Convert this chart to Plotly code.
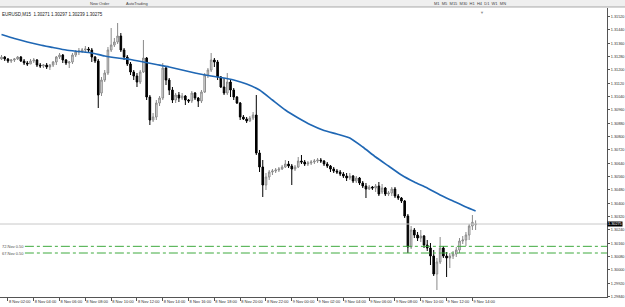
import pandas as pd
import plotly.graph_objects as go

# ---------------- data (prices in points, 1 point = 0.00001) ----------------
bar_start = "2012-11-08 01:30"   # first M15 bar
open_pts = [
    131265, 131277, 131265, 131253, 131259, 131265, 131277, 131253, 131241, 131235,
    131253, 131259, 131229, 131223, 131229, 131217, 131229, 131247, 131277, 131289,
    131259, 131241, 131247, 131289, 131307, 131313, 131319, 131325, 131319, 131277,
    131253, 131061, 131139, 131181, 131319, 131349, 131367, 131403, 131319, 131277,
    131235, 131187, 131163, 131127, 131187, 131271, 131037, 130899, 130917, 131001,
    131031, 131211, 131139, 131079, 131019, 131049, 131031, 131043, 131019, 131013,
    131061, 131031, 131013, 131067, 131169, 131199, 131259, 131247, 131157, 131097,
    131061, 131127, 131079, 131037, 131001, 130917, 130905, 130893, 130911, 130929,
    130701, 130617, 130509, 130557, 130587, 130593, 130599, 130605, 130617, 130635,
    130623, 130605, 130617, 130653, 130647, 130635, 130641, 130647, 130653, 130659,
    130653, 130635, 130623, 130605, 130593, 130587, 130575, 130563, 130551, 130563,
    130533, 130551, 130521, 130503, 130485, 130497, 130491, 130503, 130467, 130491,
    130455, 130461, 130485, 130443, 130431, 130413, 130323, 130137, 130239, 130209,
    130191, 130203, 130149, 130131, 130083, 129975, 130047, 130131, 130083, 130071,
    130083, 130095, 130119, 130173, 130179, 130209, 130263, 130271]
high_pts = [
    131289, 131283, 131271, 131265, 131271, 131283, 131283, 131265, 131253, 131265,
    131271, 131265, 131241, 131235, 131241, 131235, 131253, 131283, 131301, 131295,
    131265, 131253, 131301, 131319, 131331, 131331, 131343, 131337, 131331, 131283,
    131265, 131157, 131199, 131337, 131451, 131391, 131481, 131421, 131331, 131289,
    131247, 131199, 131181, 131199, 131379, 131277, 131049, 130941, 131019, 131043,
    131241, 131217, 131151, 131097, 131061, 131067, 131061, 131049, 131025, 131073,
    131067, 131037, 131079, 131181, 131211, 131301, 131271, 131259, 131163, 131151,
    131181, 131139, 131091, 131043, 131007, 130929, 130917, 130923, 130947, 131049,
    130719, 130659, 130581, 130599, 130605, 130611, 130617, 130629, 130659, 130653,
    130635, 130629, 130677, 130689, 130659, 130653, 130659, 130665, 130671, 130671,
    130659, 130647, 130629, 130617, 130605, 130599, 130587, 130581, 130581, 130569,
    130563, 130557, 130533, 130521, 130509, 130503, 130515, 130527, 130515, 130497,
    130473, 130497, 130497, 130455, 130437, 130419, 130335, 130263, 130251, 130227,
    130239, 130209, 130179, 130161, 130119, 130071, 130197, 130143, 130107, 130101,
    130113, 130137, 130191, 130203, 130227, 130275, 130329, 130297]
low_pts = [
    131259, 131253, 131241, 131241, 131247, 131259, 131247, 131229, 131223, 131235,
    131241, 131217, 131211, 131211, 131205, 131199, 131217, 131229, 131265, 131241,
    131229, 131211, 131235, 131277, 131289, 131301, 131301, 131301, 131247, 131241,
    130971, 131043, 131127, 131169, 131307, 131337, 131355, 131307, 131259, 131223,
    131169, 131139, 131097, 131115, 131181, 131019, 130869, 130887, 130899, 130983,
    131019, 131109, 131049, 131001, 131001, 131007, 131019, 130989, 131001, 131001,
    131019, 130977, 131001, 131061, 131151, 131187, 131217, 131139, 131091, 131049,
    131049, 131037, 131019, 130995, 130899, 130899, 130881, 130887, 130899, 130689,
    130587, 130437, 130479, 130539, 130569, 130581, 130587, 130599, 130611, 130611,
    130509, 130593, 130611, 130635, 130623, 130623, 130629, 130635, 130641, 130641,
    130623, 130611, 130587, 130581, 130575, 130563, 130551, 130533, 130539, 130521,
    130521, 130509, 130491, 130431, 130479, 130479, 130467, 130443, 130455, 130443,
    130443, 130443, 130431, 130419, 130401, 130311, 130101, 130125, 130191, 130173,
    130167, 130131, 130113, 130029, 129963, 129879, 130035, 130071, 129957, 130011,
    130065, 130077, 130101, 130155, 130143, 130179, 130239, 130239]
close_pts = [
    131277, 131265, 131253, 131259, 131265, 131277, 131253, 131241, 131235, 131253,
    131259, 131229, 131223, 131229, 131217, 131229, 131247, 131277, 131289, 131259,
    131241, 131247, 131289, 131307, 131313, 131319, 131325, 131319, 131277, 131253,
    131049, 131139, 131181, 131319, 131349, 131367, 131403, 131319, 131277, 131235,
    131187, 131163, 131127, 131187, 131271, 131037, 130899, 130917, 131001, 131031,
    131211, 131139, 131079, 131019, 131049, 131031, 131043, 131019, 131013, 131061,
    131031, 131013, 131067, 131169, 131199, 131259, 131247, 131157, 131097, 131061,
    131127, 131079, 131037, 131001, 130917, 130905, 130893, 130911, 130929, 130701,
    130617, 130509, 130557, 130587, 130593, 130599, 130605, 130617, 130635, 130623,
    130605, 130617, 130653, 130647, 130635, 130641, 130647, 130653, 130659, 130653,
    130635, 130623, 130605, 130593, 130587, 130575, 130563, 130551, 130563, 130533,
    130551, 130521, 130503, 130485, 130497, 130491, 130503, 130455, 130491, 130455,
    130461, 130485, 130443, 130431, 130413, 130323, 130137, 130239, 130209, 130191,
    130203, 130149, 130131, 130083, 129975, 130047, 130131, 130083, 130071, 130083,
    130095, 130119, 130173, 130179, 130209, 130263, 130285, 130275]
# moving average, sampled hourly (every 4th bar) plus the last bar
ma_pts = [131412, 131388, 131367, 131349, 131334, 131319, 131310, 131301, 131283, 131271,
          131262, 131247, 131232, 131217, 131199, 131181, 131166, 131154, 131139, 131115,
          131079, 131019, 130959, 130911, 130869, 130836, 130815, 130791, 130737, 130677,
          130623, 130569, 130527, 130491, 130449, 130413, 130377, 130353]

level_prices = [1.30141, 1.30101]
level_labels = ["72.Nov 0.50", "67.Nov 0.50"]
bid_price = 1.30275
title_text = "EURUSD,M15  1.30271 1.30297 1.30239 1.30275"
toolbar_items = ["New Order", "AutoTrading", "M1  M5  M15  M30  H1  H4  D1  W1  MN"]

y_tick_values = [1.29840, 1.29920, 1.30000, 1.30080, 1.30160, 1.30240, 1.30320, 1.30400,
                 1.30480, 1.30560, 1.30640, 1.30720, 1.30800, 1.30880, 1.30960, 1.31040,
                 1.31120, 1.31200, 1.31280, 1.31360, 1.31440, 1.31520]
x_tick_times = ["2012-11-08 02:00", "2012-11-08 04:00", "2012-11-08 06:00", "2012-11-08 08:00",
                "2012-11-08 10:00", "2012-11-08 12:00", "2012-11-08 14:00", "2012-11-08 16:00",
                "2012-11-08 18:00", "2012-11-08 20:00", "2012-11-08 22:00", "2012-11-09 00:00",
                "2012-11-09 02:00", "2012-11-09 04:00", "2012-11-09 06:00", "2012-11-09 08:00",
                "2012-11-09 10:00", "2012-11-09 12:00", "2012-11-09 14:00"]
x_tick_labels = ["8 Nov 02:00", "8 Nov 04:00", "8 Nov 06:00", "8 Nov 08:00", "8 Nov 10:00",
                 "8 Nov 12:00", "8 Nov 14:00", "8 Nov 16:00", "8 Nov 18:00", "8 Nov 20:00",
                 "8 Nov 22:00", "9 Nov 00:00", "9 Nov 02:00", "9 Nov 04:00", "9 Nov 06:00",
                 "9 Nov 08:00", "9 Nov 10:00", "9 Nov 12:00", "9 Nov 14:00"]

# ---------------- build ----------------
P = 1e-5
times = pd.date_range(bar_start, periods=len(open_pts), freq="15min")
ma_times = list(times[0::4]) + [times[-1]]

FONT = "Liberation Sans, Arial, sans-serif"
fig = go.Figure()
fig.add_trace(go.Candlestick(
    x=times,
    open=[v * P for v in open_pts], high=[v * P for v in high_pts],
    low=[v * P for v in low_pts], close=[v * P for v in close_pts],
    increasing=dict(fillcolor="#e8e8e8", line=dict(color="#8a8a8a", width=1)),
    decreasing=dict(fillcolor="#000000", line=dict(color="#000000", width=1)),
    whiskerwidth=0, hoverinfo="skip", name="price"))
fig.add_trace(go.Scatter(x=ma_times, y=[v * P for v in ma_pts], mode="lines",
                         line=dict(color="#1f67b4", width=1.6, shape="spline", smoothing=0.5),
                         hoverinfo="skip", name="MA"))

shapes = []
shapes.append(dict(type="line", xref="paper", yref="y", x0=0, x1=1, y0=bid_price, y1=bid_price,
                   line=dict(color="#c8c8c8", width=1)))
for p in level_prices:
    shapes.append(dict(type="line", xref="paper", yref="y", x0=0.041, x1=1, y0=p, y1=p,
                       line=dict(color="#3faa3f", width=1, dash="dashdot")))
# toolbar strip at the top
shapes.append(dict(type="rect", xref="paper", yref="paper", x0=-0.01, x1=1.04,
                   y0=1.0035, y1=1.04, fillcolor="#efefef", line=dict(width=0), layer="above"))
shapes.append(dict(type="line", xref="paper", yref="paper", x0=-0.01, x1=1.04,
                   y0=1.0035, y1=1.0035, line=dict(color="#a8a8a8", width=1), layer="above"))

annotations = [
    dict(text=title_text, xref="paper", yref="paper", x=0.0, y=0.992, xanchor="left",
         yanchor="top", showarrow=False, font=dict(family=FONT, size=4.5, color="#202020")),
    dict(text=f"{bid_price:.5f}", xref="paper", yref="y", x=1.0, y=bid_price, xanchor="left",
         yanchor="middle", showarrow=False, bgcolor="#000000", borderpad=0,
         font=dict(family=FONT, size=3.8, color="#ffffff")),
    dict(text="▼", xref="paper", yref="paper", x=482 / 607, y=1.0, xanchor="center",
         yanchor="top", showarrow=False, font=dict(size=4, color="#909090")),
]
for p, lab in zip(level_prices, level_labels):
    annotations.append(dict(text=lab, xref="paper", yref="y", x=0.0, y=p, xanchor="left",
                            yanchor="middle", showarrow=False,
                            font=dict(family=FONT, size=4, color="#505050")))
for xp, t in zip([88, 124, 432], toolbar_items):
    annotations.append(dict(text=t, xref="paper", yref="paper", x=xp / 607, y=1.016,
                            xanchor="left", yanchor="middle", showarrow=False,
                            font=dict(family=FONT, size=4, color="#404040")))

fig.update_layout(
    width=625, height=307, margin=dict(l=0, r=18, t=8, b=10),
    paper_bgcolor="white", plot_bgcolor="white", showlegend=False,
    shapes=shapes, annotations=annotations,
    xaxis=dict(type="date", range=["2012-11-08 01:23", "2012-11-10 00:26"],
               rangeslider=dict(visible=False), showgrid=False, zeroline=False,
               showline=True, linecolor="#555555", linewidth=1, automargin=False,
               ticks="outside", ticklen=3, tickcolor="#555555", tickangle=0,
               tickvals=x_tick_times, ticktext=x_tick_labels,
               ticklabelposition="outside right",
               tickfont=dict(family=FONT, size=4, color="#303030")),
    yaxis=dict(side="right", range=[1.29837, 1.31571], showgrid=False, zeroline=False,
               showline=True, linecolor="#555555", linewidth=1, automargin=False,
               ticks="outside", ticklen=2, tickcolor="#555555",
               tickvals=y_tick_values, ticktext=[f"{v:.5f}" for v in y_tick_values],
               tickfont=dict(family=FONT, size=3.8, color="#303030")),
)

fig.write_html("out.html")
